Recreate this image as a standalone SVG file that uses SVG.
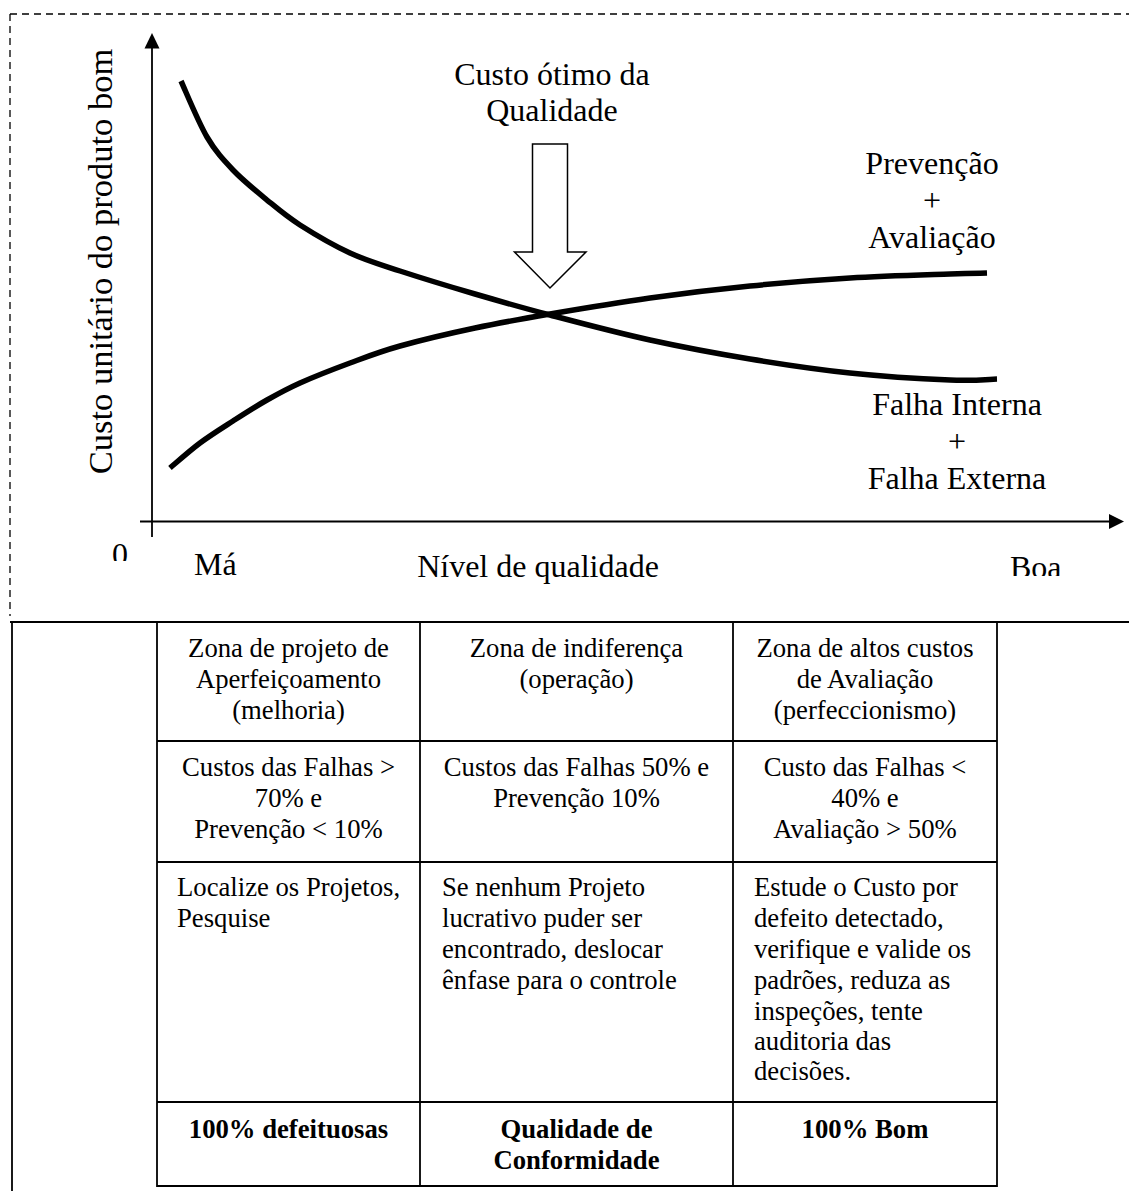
<svg xmlns="http://www.w3.org/2000/svg" width="1129" height="1191" viewBox="0 0 1129 1191">
<style>
  text { font-family: "Liberation Serif", "Times New Roman", serif; fill: #000; }
  .lab { font-size: 32px; }
  .ylab { font-size: 34.5px; }
  .cell { font-size: 26.7px; }
  .mid { text-anchor: middle; }
  .bold { font-weight: bold; }
  .axis { stroke: #000; stroke-width: 1.8; fill: none; }
  .curve { stroke: #000; stroke-width: 5.5; fill: none; stroke-linejoin: round; }
  .grid { stroke: #000; stroke-width: 1.8; fill: none; }
  .dash { stroke: #000; stroke-width: 1.3; fill: none; stroke-dasharray: 7 5; }
</style>
<defs>
  <clipPath id="clipZero"><rect x="100" y="530" width="40" height="31"/></clipPath>
  <clipPath id="clipBoa"><rect x="1000" y="540" width="80" height="36"/></clipPath>
</defs>
<rect x="0" y="0" width="1129" height="1191" fill="#fff"/>

<g id="frame">
  <line class="dash" x1="10" y1="14" x2="1129" y2="14"/>
  <line class="dash" x1="10" y1="14" x2="10" y2="616"/>
</g>

<g id="axes">
  <line class="axis" x1="152" y1="46" x2="152" y2="537"/>
  <polygon points="152,33 144.5,48.5 159.5,48.5" fill="#000"/>
  <line class="axis" x1="140" y1="521.5" x2="1111" y2="521.5"/>
  <polygon points="1124,521.5 1109,514 1109,529" fill="#000"/>
  <text class="ylab mid" transform="translate(111.5,261.5) rotate(-90)">Custo unitário do produto bom</text>
  <text class="lab" x="112" y="565" clip-path="url(#clipZero)">0</text>
  <text class="lab" x="194" y="575">Má</text>
  <text class="lab mid" x="538" y="577">Nível de qualidade</text>
  <text class="lab" x="1010" y="578" clip-path="url(#clipBoa)">Boa</text>
</g>

<g id="connectors">
  <path id="curve-falha" class="curve" d="M181,81 C185.3,90.3 198.3,122.2 207,137 C215.7,151.8 223,159.5 233,170 C243,180.5 255.8,190.8 267,200 C278.2,209.2 286.2,216.2 300,225 C313.8,233.8 333.3,245.3 350,253 C366.7,260.7 379.2,264.2 400,271 C420.8,277.8 450,286.7 475,294 C500,301.3 520.8,307.3 550,315 C579.2,322.7 616.7,332.7 650,340 C683.3,347.3 716.7,353.5 750,359 C783.3,364.5 816.7,369.5 850,373 C883.3,376.5 925.5,379 950,380 C974.5,381 989.2,379.2 997,379"/>
  <path id="curve-prevencao" class="curve" d="M170,468 C175,463.8 189.5,450.8 200,443 C210.5,435.2 221.8,428.2 233,421 C244.2,413.8 255.8,406.3 267,400 C278.2,393.7 286.2,389.2 300,383 C313.8,376.8 333.3,369.2 350,363 C366.7,356.8 379.2,351.8 400,346 C420.8,340.2 450,333.3 475,328 C500,322.7 520.8,319 550,314 C579.2,309 616.7,302.7 650,298 C683.3,293.3 716.7,289.3 750,286 C783.3,282.7 816.7,280 850,278 C883.3,276 927.2,274.8 950,274 C972.8,273.2 980.8,273.2 987,273"/>
</g>

<g id="node-otimo">
  <text class="lab mid" x="552" y="85">Custo ótimo da</text>
  <text class="lab mid" x="552" y="121">Qualidade</text>
  <polygon points="532.5,144 567.5,144 567.5,252 586,252 550,288 514.5,252 532.5,252" fill="#fff" stroke="#000" stroke-width="1.5"/>
</g>

<g id="node-prevencao">
  <text class="lab mid" x="932" y="174">Prevenção</text>
  <text class="lab mid" x="932" y="211">+</text>
  <text class="lab mid" x="932" y="248">Avaliação</text>
</g>

<g id="node-falha">
  <text class="lab mid" x="957" y="415">Falha Interna</text>
  <text class="lab mid" x="957" y="452">+</text>
  <text class="lab mid" x="957" y="489">Falha Externa</text>
</g>

<g id="table">
  <line class="grid" x1="10" y1="622" x2="1129" y2="622"/>
  <line class="grid" x1="12" y1="622" x2="12" y2="1191"/>
  <line class="grid" x1="157" y1="622" x2="157" y2="1187"/>
  <line class="grid" x1="420" y1="622" x2="420" y2="1187"/>
  <line class="grid" x1="733" y1="622" x2="733" y2="1187"/>
  <line class="grid" x1="997" y1="622" x2="997" y2="1187"/>
  <line class="grid" x1="157" y1="741" x2="997" y2="741"/>
  <line class="grid" x1="157" y1="862" x2="997" y2="862"/>
  <line class="grid" x1="157" y1="1102" x2="997" y2="1102"/>
  <line class="grid" x1="157" y1="1186" x2="997" y2="1186"/>
</g>

<g id="row-zonas">
  <text class="cell mid" x="288.5" y="657">Zona de projeto de</text>
  <text class="cell mid" x="288.5" y="688">Aperfeiçoamento</text>
  <text class="cell mid" x="288.5" y="719">(melhoria)</text>
  <text class="cell mid" x="576.5" y="657">Zona de indiferença</text>
  <text class="cell mid" x="576.5" y="688">(operação)</text>
  <text class="cell mid" x="865" y="657">Zona de altos custos</text>
  <text class="cell mid" x="865" y="688">de Avaliação</text>
  <text class="cell mid" x="865" y="719">(perfeccionismo)</text>
</g>

<g id="row-custos">
  <text class="cell mid" x="288.5" y="776">Custos das Falhas &gt;</text>
  <text class="cell mid" x="288.5" y="807">70% e</text>
  <text class="cell mid" x="288.5" y="838">Prevenção &lt; 10%</text>
  <text class="cell mid" x="576.5" y="776">Custos das Falhas 50% e</text>
  <text class="cell mid" x="576.5" y="807">Prevenção 10%</text>
  <text class="cell mid" x="865" y="776">Custo das Falhas &lt;</text>
  <text class="cell mid" x="865" y="807">40% e</text>
  <text class="cell mid" x="865" y="838">Avaliação &gt; 50%</text>
</g>

<g id="row-acoes">
  <text class="cell" x="177" y="896">Localize os Projetos,</text>
  <text class="cell" x="177" y="927">Pesquise</text>
  <text class="cell" x="442" y="896">Se nenhum Projeto</text>
  <text class="cell" x="442" y="927">lucrativo puder ser</text>
  <text class="cell" x="442" y="958">encontrado, deslocar</text>
  <text class="cell" x="442" y="989">ênfase para o controle</text>
  <text class="cell" x="754" y="896">Estude o Custo por</text>
  <text class="cell" x="754" y="927">defeito detectado,</text>
  <text class="cell" x="754" y="958">verifique e valide os</text>
  <text class="cell" x="754" y="989">padrões, reduza as</text>
  <text class="cell" x="754" y="1020">inspeções, tente</text>
  <text class="cell" x="754" y="1050">auditoria das</text>
  <text class="cell" x="754" y="1080">decisões.</text>
</g>

<g id="row-qualidade">
  <text class="cell mid bold" x="288.5" y="1138">100% defeituosas</text>
  <text class="cell mid bold" x="576.5" y="1138">Qualidade de</text>
  <text class="cell mid bold" x="576.5" y="1169">Conformidade</text>
  <text class="cell mid bold" x="865" y="1138">100% Bom</text>
</g>
</svg>
